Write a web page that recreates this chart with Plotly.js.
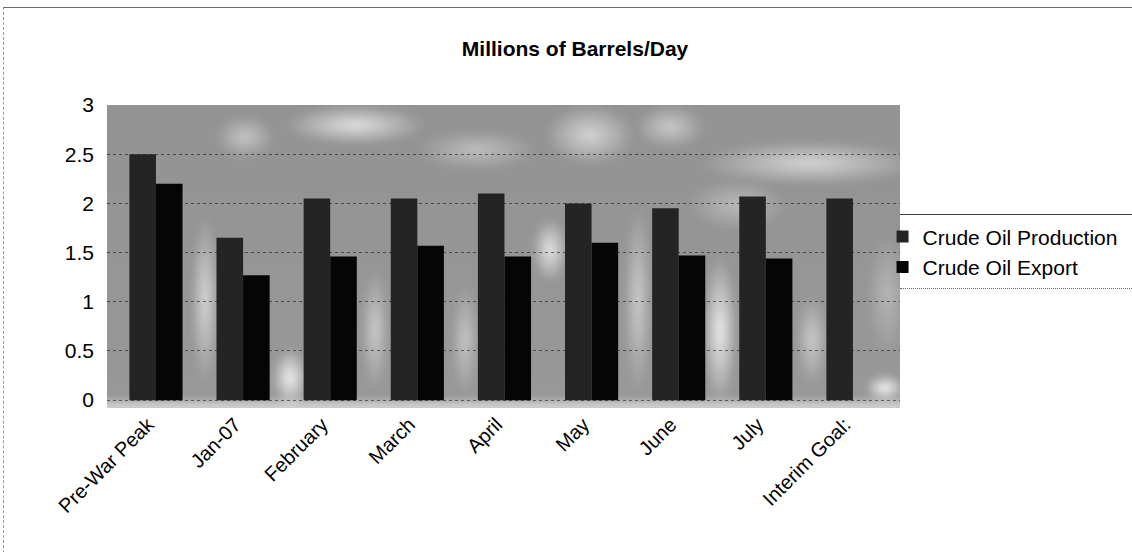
<!DOCTYPE html>
<html>
<head>
<meta charset="utf-8">
<script src="https://cdn.plot.ly/plotly-3.0.1.min.js"></script>
<style>
  html, body { margin: 0; padding: 0; background: #ffffff; }
  #wrap { position: relative; width: 1132px; height: 552px; overflow: hidden; background: #ffffff; }
  /* chart-area frame: only the top and left edges are visible */
  #frame { position: absolute; left: 3px; top: 7px; width: 1140px; height: 560px;
           border-top: 1px solid #6a6a6a; border-left: 1px dashed #9a9a9a; }
  /* textured plot-area fill sitting under the transparent plot */
  #plotclip { position: absolute; left: 107px; top: 105px; width: 793px; height: 303px; overflow: hidden; }
  #plotfill { position: absolute; left: -10px; top: -10px; width: 813px; height: 323px;
    filter: blur(3px);
    background:
      radial-gradient(ellipse 70px 20px at 258px 30px, rgba(255,255,255,0.7), rgba(255,255,255,0) 100%),
      radial-gradient(ellipse 30px 22px at 148px 42px, rgba(255,255,255,0.45), rgba(255,255,255,0) 100%),
      radial-gradient(ellipse 45px 30px at 493px 40px, rgba(255,255,255,0.6), rgba(255,255,255,0) 100%),
      radial-gradient(ellipse 35px 22px at 573px 32px, rgba(255,255,255,0.5), rgba(255,255,255,0) 100%),
      radial-gradient(ellipse 110px 22px at 713px 68px, rgba(255,255,255,0.6), rgba(255,255,255,0) 100%),
      radial-gradient(ellipse 60px 20px at 380px 55px, rgba(255,255,255,0.4), rgba(255,255,255,0) 100%),
      radial-gradient(ellipse 50px 25px at 640px 110px, rgba(255,255,255,0.35), rgba(255,255,255,0) 100%),
      radial-gradient(ellipse 14px 85px at 108px 205px, rgba(255,255,255,0.6), rgba(255,255,255,0) 100%),
      radial-gradient(ellipse 18px 30px at 193px 283px, rgba(255,255,255,0.85), rgba(255,255,255,0) 100%),
      radial-gradient(ellipse 14px 60px at 278px 235px, rgba(255,255,255,0.5), rgba(255,255,255,0) 100%),
      radial-gradient(ellipse 14px 55px at 368px 245px, rgba(255,255,255,0.45), rgba(255,255,255,0) 100%),
      radial-gradient(ellipse 18px 32px at 453px 155px, rgba(255,255,255,0.75), rgba(255,255,255,0) 100%),
      radial-gradient(ellipse 14px 95px at 541px 205px, rgba(255,255,255,0.5), rgba(255,255,255,0) 100%),
      radial-gradient(ellipse 17px 75px at 623px 235px, rgba(255,255,255,0.8), rgba(255,255,255,0) 100%),
      radial-gradient(ellipse 16px 45px at 715px 245px, rgba(255,255,255,0.5), rgba(255,255,255,0) 100%),
      radial-gradient(ellipse 20px 14px at 788px 293px, rgba(255,255,255,0.9), rgba(255,255,255,0) 100%),
      radial-gradient(ellipse 20px 60px at 790px 200px, rgba(255,255,255,0.3), rgba(255,255,255,0) 100%),
      linear-gradient(to bottom, #939393 0px, #989898 305px, #c8c8c8 306px, #d2d2d2 323px);
  }
  #legendbox { position: absolute; left: 900px; top: 214px; width: 240px; height: 73px;
               border-top: 1px solid #3a3a3a; border-bottom: 1px dotted #6a6a6a; }
  #chart { position: absolute; left: 0; top: 0; width: 1132px; height: 552px; }
</style>
</head>
<body>
<div id="wrap">
  <div id="frame"></div>
  <div id="plotclip"><div id="plotfill"></div></div>
  <div id="legendbox"></div>
  <div id="chart"></div>
</div>
<script>
// Categories along the x axis
const categories = ['Pre-War Peak', 'Jan-07', 'February', 'March', 'April',
                    'May', 'June', 'July', 'Interim Goal:'];

// Millions of barrels per day
const crudeOilProduction = [2.5, 1.65, 2.05, 2.05, 2.1, 2.0, 1.95, 2.07, 2.05];
const crudeOilExport     = [2.2, 1.27, 1.46, 1.57, 1.46, 1.6, 1.47, 1.44, null];

// Y-axis ticks
const yTickValues = [0, 0.5, 1, 1.5, 2, 2.5, 3];
const yTickLabels = ['0', '0.5', '1', '1.5', '2', '2.5', '3'];

const FONT = 'Arial, "Liberation Sans", sans-serif';

const traces = [
  {
    type: 'bar',
    name: 'Crude Oil Production',
    x: categories,
    y: crudeOilProduction,
    marker: { color: '#242424', line: { width: 0 } },
    hoverinfo: 'x+y+name'
  },
  {
    type: 'bar',
    name: 'Crude Oil Export',
    x: categories,
    y: crudeOilExport,
    marker: { color: '#050505', line: { width: 0 } },
    hoverinfo: 'x+y+name'
  }
];

const layout = {
  width: 1132,
  height: 552,
  margin: { l: 107, r: 232, t: 105, b: 144, pad: 0, autoexpand: false },
  paper_bgcolor: 'rgba(0,0,0,0)',
  plot_bgcolor: 'rgba(0,0,0,0)',
  barmode: 'group',
  bargap: 0.39,
  bargroupgap: 0,
  font: { family: FONT, color: '#000000', size: 20 },
  title: {
    text: '<b>Millions of Barrels/Day</b>',
    font: { family: FONT, size: 21, color: '#000000' },
    xref: 'container', x: 0.508, xanchor: 'center',
    yref: 'container', y: 0.911, yanchor: 'middle'
  },
  xaxis: {
    type: 'category',
    range: [-0.562, 8.54],
    tickangle: -45,
    tickfont: { family: FONT, size: 20, color: '#000000' },
    ticklabelshift: -8,
    showgrid: false,
    showline: false,
    zeroline: false,
    automargin: false,
    ticks: ''
  },
  yaxis: {
    range: [-0.08, 3],
    tickvals: yTickValues,
    ticktext: yTickLabels,
    tickfont: { family: FONT, size: 21, color: '#000000' },
    ticks: '',
    ticklabelstandoff: 12,
    showgrid: true,
    gridcolor: 'rgba(0,0,0,0.5)',
    griddash: 'dot',
    gridwidth: 1,
    zeroline: false,
    automargin: false,
    showline: false
  },
  showlegend: true,
  legend: {
    xref: 'paper', x: 0.978, xanchor: 'left',
    yref: 'paper', y: 0.515, yanchor: 'middle',
    orientation: 'v',
    traceorder: 'normal',
    bgcolor: 'rgba(0,0,0,0)',
    borderwidth: 0,
    itemwidth: 30,
    font: { family: FONT, size: 21, color: '#000000' }
  }
};

Plotly.newPlot('chart', traces, layout, { displayModeBar: false, staticPlot: true });
</script>
</body>
</html>
